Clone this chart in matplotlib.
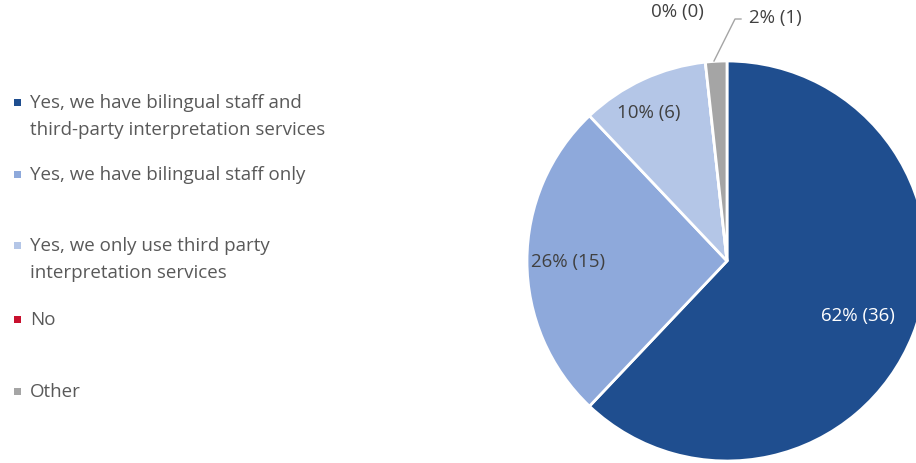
import matplotlib.pyplot as plt
from matplotlib.patches import Rectangle

W, H = 916, 464

categories = ['Yes, we have bilingual staff and\nthird-party interpretation services',
              'Yes, we have bilingual staff only',
              'Yes, we only use third party\ninterpretation services',
              'No',
              'Other']
counts = [36, 15, 6, 0, 1]
pct_labels = ['62% (36)', '26% (15)', '10% (6)', '0% (0)', '2% (1)']
colors = ['#1F4E8F', '#8EA9DB', '#B4C6E7', '#C8102E', '#A5A5A5']

plt.rcParams['font.family'] = ['Open Sans', 'DejaVu Sans']

fig = plt.figure(figsize=(W / 100, H / 100), dpi=100)

# pie: centre (727, 262) px, radius 200 px
cx, cy, r = 727, 262, 200
ax = fig.add_axes([(cx - r) / W, (H - cy - r) / H, 2 * r / W, 2 * r / H])
wedges, _ = ax.pie(counts, colors=colors, startangle=90, counterclock=False,
                   radius=1, wedgeprops=dict(edgecolor='white', linewidth=2))
ax.set_xlim(-1, 1)
ax.set_ylim(-1, 1)
ax.set_aspect('equal')
ax.axis('off')

lbl_pos = [(0.655, -0.27), (-0.795, 0.0), (-0.39, 0.745), (-0.25, 1.25), (0.24, 1.22)]
lbl_col = ['white', '#404040', '#404040', '#404040', '#404040']
for t, (x, y), c in zip(pct_labels, lbl_pos, lbl_col):
    ax.text(x, y, t, ha='center', va='center', fontsize=13.5, color=c, clip_on=False)
# leader line for the small slice
ax.plot([-0.065, 0.04, 0.07], [1.0, 1.21, 1.21], color='#A5A5A5', lw=1, clip_on=False)

# legend
leg_y = [103, 175, 246, 320, 392]
for lab, c, y in zip(categories, colors, leg_y):
    fig.add_artist(Rectangle((14 / W, (H - y - 3.5) / H), 7 / W, 7 / H,
                             transform=fig.transFigure, color=c, lw=0))
    for i, line in enumerate(lab.split('\n')):
        fig.text(30 / W, (H - y - i * 27) / H, line, ha='left', va='center',
                 fontsize=13.5, color='#595959')

plt.savefig('out.png', dpi=100)
